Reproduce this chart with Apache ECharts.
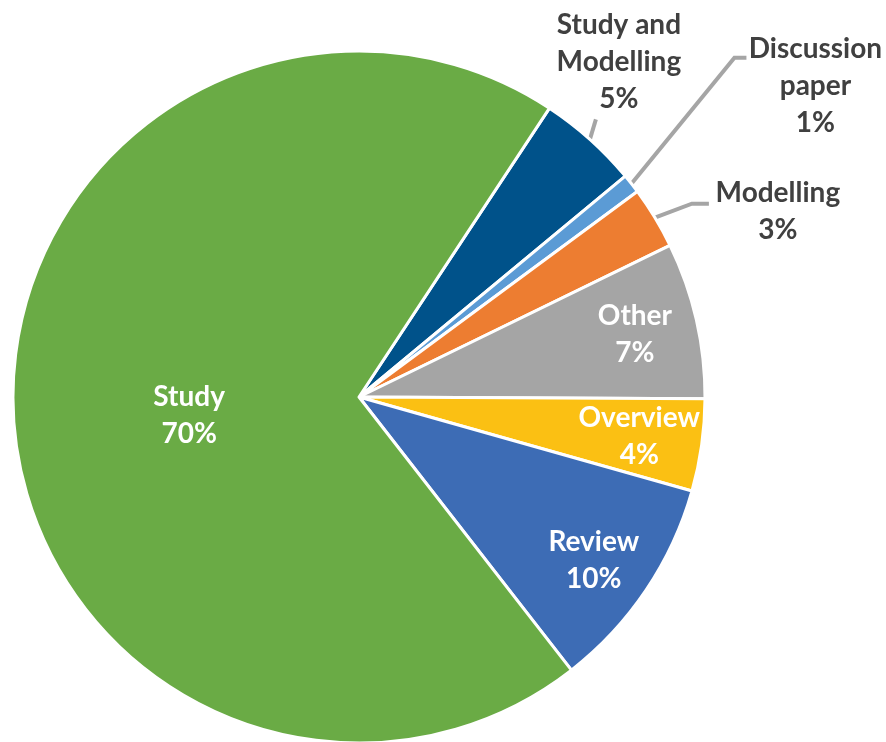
<!DOCTYPE html>
<html>
<head>
<meta charset="utf-8">
<script src="https://cdn.jsdelivr.net/npm/echarts@6/dist/echarts.min.js"></script>
<style>html,body{margin:0;padding:0;background:#fff}#c{width:886px;height:742px}</style>
</head>
<body>
<div id="c"></div>
<script>
var categories = ['Study and Modelling', 'Discussion paper', 'Modelling', 'Other', 'Overview', 'Review', 'Study'];
var values = [4.7, 0.9, 2.9, 7.3, 4.3, 10.1, 69.8];
var colors = ['#00528A', '#5B9BD5', '#ED7D31', '#A5A5A5', '#FBC013', '#3D6CB5', '#6AAB45'];

var outsideNames = ['Study and Modelling', 'Discussion paper', 'Modelling'];
var farInsideNames = ['Other', 'Overview', 'Review'];

function fmt(p) {
  var n = p.name.replace('Study and ', 'Study and\n').replace('Discussion ', 'Discussion\n');
  return n + '\n' + Math.round(p.percent) + '%';
}

var FONT = 'Lato';
var baseData = categories.map(function (c, i) {
  return { name: c, value: values[i], itemStyle: { color: colors[i] } };
});

var dataA = baseData.map(function (d) {
  var o = { name: d.name, value: d.value, itemStyle: d.itemStyle };
  if (outsideNames.indexOf(d.name) >= 0) {
    o.label = { show: true, position: 'outside', color: '#404040' };
    o.labelLine = { show: true };
  } else if (d.name === 'Study') {
    o.label = { show: true, position: 'inside', color: '#fff' };
    o.labelLine = { show: false };
  } else {
    o.label = { show: false };
    o.labelLine = { show: false };
  }
  return o;
});

var dataB = baseData.map(function (d) {
  var o = { name: d.name, value: d.value, itemStyle: { color: 'rgba(0,0,0,0)', borderWidth: 0 } };
  o.label = { show: farInsideNames.indexOf(d.name) >= 0 };
  return o;
});

var chart = echarts.init(document.getElementById('c'), null, { renderer: 'canvas' });
chart.setOption({
  animation: false,
  backgroundColor: '#ffffff',
  series: [
    {
      type: 'pie',
      center: [359, 397],
      radius: [0, 346],
      startAngle: 56.6,
      clockwise: true,
      avoidLabelOverlap: false,
      silent: true,
      itemStyle: { borderColor: '#ffffff', borderWidth: 3 },
      label: {
        formatter: fmt,
        fontFamily: FONT, fontWeight: 'bold', fontSize: 28, lineHeight: 37
      },
      labelLine: { lineStyle: { color: '#A5A5A5', width: 4 }, length: 20, length2: 10, smooth: false },
      labelLayout: function (p) {
        var name = categories[p.dataIndex];
        var lr = p.labelRect;
        if (name === 'Study') {
          return { x: lr.x + lr.width / 2 + 6, y: lr.y + lr.height / 2 + 12, align: 'center', verticalAlign: 'middle' };
        }
        var lp = p.labelLinePoints;
        if (!lp || outsideNames.indexOf(name) < 0) return {};
        var s = lp[0];
        if (name === 'Study and Modelling') {
          return { x: s[0] + 29, y: s[1] - 77, align: 'center', verticalAlign: 'middle',
            labelLinePoints: [s, [s[0] + 6, s[1] - 20], [s[0] + 6, s[1] - 20]] };
        }
        if (name === 'Discussion paper') {
          return { x: s[0] + 184, y: s[1] - 98, align: 'center', verticalAlign: 'middle',
            labelLinePoints: [s, [s[0] + 103, s[1] - 126], [s[0] + 115, s[1] - 126]] };
        }
        return { x: s[0] + 123, y: s[1] - 6, align: 'center', verticalAlign: 'middle',
          labelLinePoints: [s, [s[0] + 37, s[1] - 14], [s[0] + 54, s[1] - 14]] };
      },
      data: dataA
    },
    {
      type: 'pie',
      center: [359, 397],
      radius: [0, 560],
      startAngle: 56.6,
      clockwise: true,
      silent: true,
      z: 5,
      avoidLabelOverlap: false,
      label: {
        position: 'inside', formatter: fmt, color: '#fff',
        fontFamily: FONT, fontWeight: 'bold', fontSize: 28, lineHeight: 37
      },
      labelLine: { show: false },
      labelLayout: function (p) {
        var name = categories[p.dataIndex];
        var lr = p.labelRect;
        if (name === 'Review') {
          return { x: lr.x + lr.width / 2, y: lr.y + lr.height / 2 + 5, align: 'center', verticalAlign: 'middle' };
        }
        return {};
      },
      data: dataB
    }
  ]
});
</script>
</body>
</html>
